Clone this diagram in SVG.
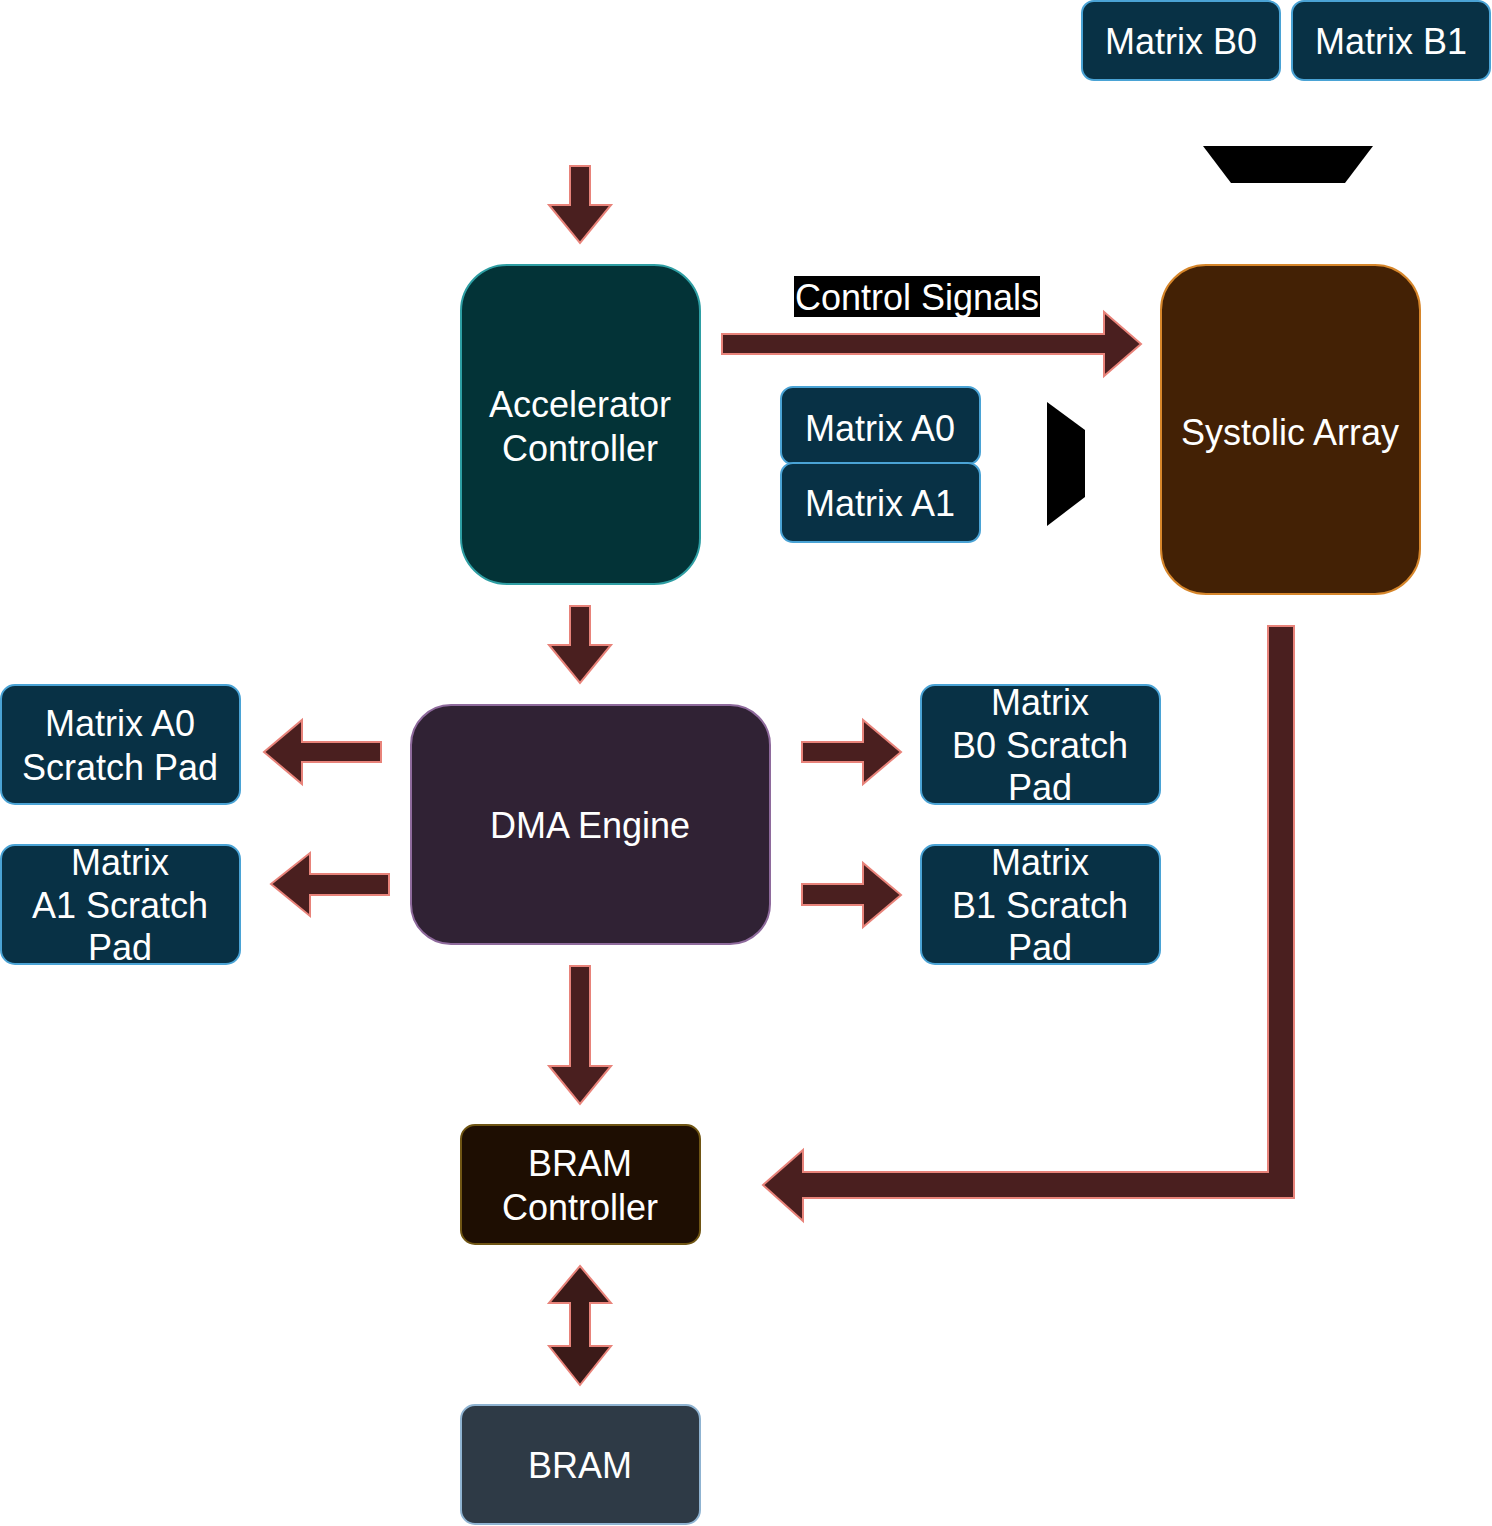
<svg xmlns="http://www.w3.org/2000/svg" width="1492" height="1526" viewBox="0 0 1492 1526">
<style>
text{font-family:"Liberation Sans",Arial,Helvetica,sans-serif;font-size:36px;fill:#ffffff;text-anchor:middle}
.mat{fill:#083145;stroke:#4aa3d5;stroke-width:2}
.arr{fill:#4a1f1f;stroke:#e8837a;stroke-width:2}
.arr2{fill:#3b1a18;stroke:#e8837a;stroke-width:2}
.trap{fill:#000000}
</style>
<rect width="1492" height="1526" fill="#ffffff"/>
<g id="connectors">
<polygon class="arr" points="570,166 590,166 590,205 611,205 580,243 549,205 570,205"/>
<polygon class="arr" points="722,334 1104,334 1104,312 1141,344 1104,376 1104,354 722,354"/>
<polygon class="arr" points="570,606 590,606 590,645 611,645 580,683 549,645 570,645"/>
<polygon class="arr" points="381,742 302,742 302,720 264,752 302,784 302,762 381,762"/>
<polygon class="arr" points="389,874 310,874 310,853 271,884 310,916 310,895 389,895"/>
<polygon class="arr" points="802,742 863,742 863,720 901,752 863,784 863,762 802,762"/>
<polygon class="arr" points="802,884 863,884 863,863 901,895 863,927 863,905 802,905"/>
<polygon class="arr" points="570,966 590,966 590,1066 611,1066 580,1104 549,1066 570,1066"/>
<polygon class="arr2" points="580,1266 611,1303 590,1303 590,1346 611,1346 580,1385 549,1346 570,1346 570,1303 549,1303"/>
<polygon class="arr" points="1268,626 1294,626 1294,1198 803,1198 803,1221 763,1185 803,1150 803,1172 1268,1172"/>
</g>
<g id="trapezoid-top"><polygon class="trap" points="1203,146 1373,146 1345,183 1231,183"/></g>
<g id="trapezoid-side"><polygon class="trap" points="1047,402 1085,430 1085,497 1047,526"/></g>
<g id="matrix-b0"><rect class="mat" x="1082" y="1" width="198" height="79" rx="12"/><text x="1181" y="54">Matrix B0</text></g>
<g id="matrix-b1"><rect class="mat" x="1292" y="1" width="198" height="79" rx="12"/><text x="1391" y="54">Matrix B1</text></g>
<g id="accelerator-controller"><rect x="461" y="265" width="239" height="319" rx="46" fill="#033337" stroke="#2e9ea3" stroke-width="2"/><text x="580" y="417">Accelerator</text><text x="580" y="461">Controller</text></g>
<g id="control-signals-label"><rect x="794" y="276" width="246" height="41" fill="#000000"/><text x="917" y="310">Control Signals</text></g>
<g id="matrix-a0"><rect class="mat" x="781" y="387" width="199" height="77" rx="12"/><text x="880" y="441">Matrix A0</text></g>
<g id="matrix-a1"><rect class="mat" x="781" y="463" width="199" height="79" rx="12"/><text x="880" y="516">Matrix A1</text></g>
<g id="systolic-array"><rect x="1161" y="265" width="259" height="329" rx="45" fill="#432105" stroke="#d6862b" stroke-width="2"/><text x="1290" y="445">Systolic Array</text></g>
<g id="dma-engine"><rect x="411" y="705" width="359" height="239" rx="40" fill="#302234" stroke="#8e6a9c" stroke-width="2"/><text x="590" y="838">DMA Engine</text></g>
<g id="matrix-a0-scratch"><rect class="mat" x="1" y="685" width="239" height="119" rx="14"/><text x="120" y="736">Matrix A0</text><text x="120" y="780">Scratch Pad</text></g>
<g id="matrix-a1-scratch"><rect class="mat" x="1" y="845" width="239" height="119" rx="14"/><text x="120" y="875">Matrix</text><text x="120" y="918">A1 Scratch</text><text x="120" y="960">Pad</text></g>
<g id="matrix-b0-scratch"><rect class="mat" x="921" y="685" width="239" height="119" rx="14"/><text x="1040" y="715">Matrix</text><text x="1040" y="758">B0 Scratch</text><text x="1040" y="800">Pad</text></g>
<g id="matrix-b1-scratch"><rect class="mat" x="921" y="845" width="239" height="119" rx="14"/><text x="1040" y="875">Matrix</text><text x="1040" y="918">B1 Scratch</text><text x="1040" y="960">Pad</text></g>
<g id="bram-controller"><rect x="461" y="1125" width="239" height="119" rx="14" fill="#1e0e02" stroke="#6f5514" stroke-width="2"/><text x="580" y="1176">BRAM</text><text x="580" y="1220">Controller</text></g>
<g id="bram"><rect x="461" y="1405" width="239" height="119" rx="14" fill="#2e3a46" stroke="#8fb3d1" stroke-width="2"/><text x="580" y="1478">BRAM</text></g>
</svg>
